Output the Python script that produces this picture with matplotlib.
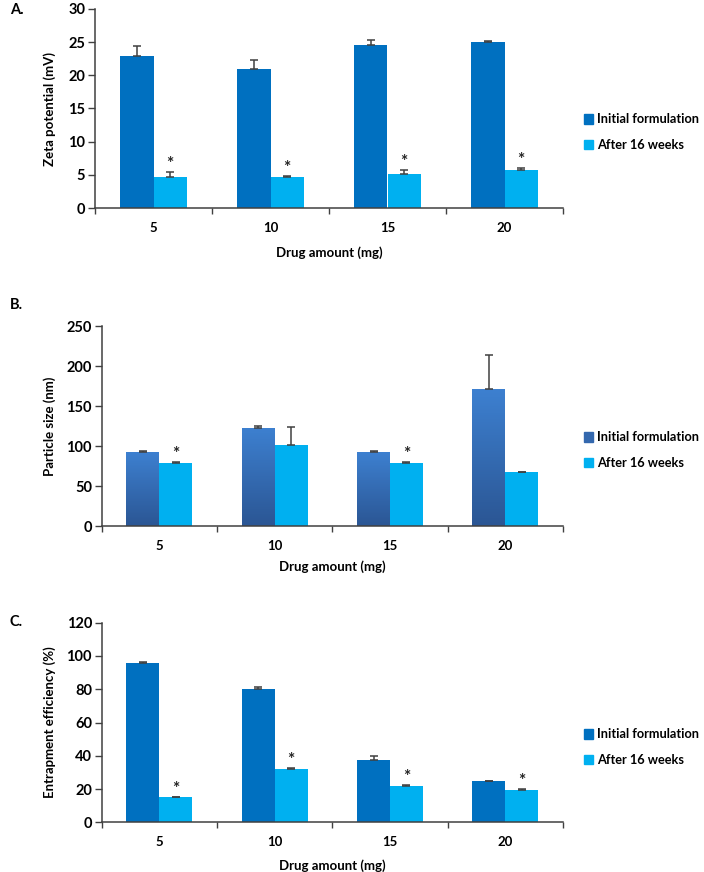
import matplotlib
matplotlib.use("Agg")
import matplotlib.pyplot as plt
import numpy as np
from matplotlib.colors import LinearSegmentedColormap

plt.rcParams['font.family'] = ['Lato', 'DejaVu Sans']
plt.rcParams['font.weight'] = 'bold'

# data
drug_amount = ["5", "10", "15", "20"]
series_names = ["Initial formulation", "After 16 weeks"]

zeta_initial = [22.9, 21.0, 24.5, 25.0]
zeta_initial_err = [1.5, 1.3, 0.9, 0.2]
zeta_after = [4.6, 4.7, 5.1, 5.7]
zeta_after_err = [0.9, 0.1, 0.7, 0.4]
zeta_stars = [True, True, True, True]

size_initial = [92.5, 122.9, 92.5, 170.8]
size_initial_err = [1.0, 2.5, 1.0, 43.0]
size_after = [78.8, 101.3, 78.8, 67.5]
size_after_err = [0.6, 22.0, 0.6, 0.6]
size_stars = [True, False, True, False]

ee_initial = [95.8, 80.0, 37.4, 24.6]
ee_initial_err = [0.5, 1.2, 2.6, 0.3]
ee_after = [15.0, 32.2, 21.8, 19.4]
ee_after_err = [0.3, 0.5, 0.4, 0.4]
ee_stars = [True, True, True, True]

dark_blue = "#0070C0"
light_blue = "#00B0F0"
err_col = "#404040"
grad = LinearSegmentedColormap.from_list("grad", ["#2B5694", "#3D80D0"])

W, H = 704, 872
fig = plt.figure(figsize=(W / 100, H / 100), dpi=100)


def make_panel(rect, initial, initial_err, after, after_err, stars, ymax, ystep,
               ylabel, letter, letter_y, legend_y, xlabel_y, gradient=False):
    left, top, right, bottom = rect
    ax = fig.add_axes([left / W, 1 - bottom / H, (right - left) / W, (bottom - top) / H])
    x = np.arange(len(drug_amount))
    bw = 0.285
    if gradient:
        b1 = ax.bar(x - bw / 2, initial, bw, color="none", zorder=2)
        for p in b1:
            x0, y0 = p.get_x(), p.get_y()
            im = ax.imshow(np.linspace(1, 0, 100).reshape(-1, 1), cmap=grad, aspect="auto",
                           extent=[x0, x0 + p.get_width(), y0, y0 + p.get_height()], zorder=2)
            im.set_clip_path(p)
        handle1 = plt.Rectangle((0, 0), 1, 1, color="#3468AE")
    else:
        ax.bar(x - bw / 2, initial, bw, color=dark_blue, zorder=2)
        handle1 = plt.Rectangle((0, 0), 1, 1, color=dark_blue)
    ax.bar(x + bw / 2, after, bw, color=light_blue, zorder=2)
    handle2 = plt.Rectangle((0, 0), 1, 1, color=light_blue)

    zeros = np.zeros(len(x))
    ax.errorbar(x - bw / 2, initial, yerr=[zeros, initial_err], fmt="none", ecolor=err_col,
                elinewidth=1.1, capsize=3, capthick=1.1, zorder=3)
    ax.errorbar(x + bw / 2, after, yerr=[zeros, after_err], fmt="none", ecolor=err_col,
                elinewidth=1.1, capsize=3, capthick=1.1, zorder=3)

    for xi, v, e, s in zip(x, after, after_err, stars):
        if s:
            ax.annotate("*", xy=(xi + bw / 2, v + e), xytext=(0, 0), textcoords="offset points",
                        ha="center", va="bottom", fontsize=12.5, fontweight="bold", color="#222222")

    ax.set_xlim(-0.5, len(x) - 0.5)
    ax.set_ylim(0, ymax)
    ax.set_yticks(np.arange(0, ymax + ystep / 2, ystep))
    ax.set_xticks(x)
    ax.set_xticklabels(drug_amount)
    ax.set_xticks(np.arange(-0.5, len(x), 1.0), minor=True)
    ax.tick_params(axis="x", which="major", length=0, pad=10, labelsize=9.5)
    ax.tick_params(axis="x", which="minor", length=4, width=1, color="#404040")
    ax.tick_params(axis="y", length=5, width=1, pad=2, labelsize=10.5, color="#404040")
    for t in ax.get_xticklabels() + ax.get_yticklabels():
        t.set_fontweight("bold")
    for sp in ["top", "right"]:
        ax.spines[sp].set_visible(False)
    for sp in ["left", "bottom"]:
        ax.spines[sp].set_color("#404040")
        ax.spines[sp].set_linewidth(1.1)

    ax.set_ylabel(ylabel, fontsize=9.5, fontweight="bold")
    ax.yaxis.set_label_coords((56 - left) / (right - left), 0.5)
    ax.set_xlabel("Drug amount (mg)", fontsize=9.5, fontweight="bold")
    ax.xaxis.set_label_coords(0.5, -(xlabel_y - 2 - bottom) / (bottom - top))

    fig.text(10 / W, 1 - letter_y / H, letter, fontsize=10.5, fontweight="bold", va="center")

    ax.legend([handle1, handle2], series_names, loc="center left",
              bbox_to_anchor=(581 / W, 1 - legend_y / H), bbox_transform=fig.transFigure,
              frameon=False, handlelength=0.75, handleheight=0.75, handletextpad=0.3,
              labelspacing=1.05, borderaxespad=0, borderpad=0.2,
              prop={"size": 9.2, "weight": "bold"})
    return ax


make_panel((95, 9, 563, 208), zeta_initial, zeta_initial_err, zeta_after, zeta_after_err,
           zeta_stars, 30, 5, "Zeta potential (mV)", "A.", 10, 132, 248)
make_panel((101.7, 326, 563, 526), size_initial, size_initial_err, size_after, size_after_err,
           size_stars, 250, 50, "Particle size (nm)", "B.", 305, 450, 562, gradient=True)
make_panel((101.7, 622.7, 563, 822.3), ee_initial, ee_initial_err, ee_after, ee_after_err,
           ee_stars, 120, 20, "Entrapment efficiency (%)", "C.", 622, 747, 861)

fig.savefig("out.png", dpi=100)
